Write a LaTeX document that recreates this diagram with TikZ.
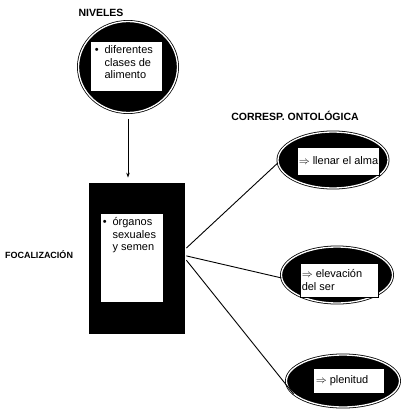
\documentclass[tikz,border=0pt]{standalone}
\usepackage{fontspec}
\setmainfont{Liberation Sans}
\usetikzlibrary{shapes.geometric,positioning,arrows.meta}

\tikzset{
	ring/.style={ellipse, draw, fill=black, double=white, double distance=1.3pt, line width=0.8pt, inner sep=0pt},
	blackbox/.style={rectangle, draw, fill=black, double=white, double distance=1.3pt, line width=0.8pt, inner sep=0pt},
	whitebox/.style={rectangle, draw, fill=white, line width=0.9pt, inner sep=0pt},
	heading/.style={font=\bfseries\fontsize{10.5}{12}\selectfont, inner sep=0pt},
	boxtext/.style={font=\fontsize{11}{12.5}\selectfont, align=left, inner sep=0pt},
	link/.style={line width=0.9pt}
}

\begin{document}
\begin{tikzpicture}[x=1pt,y=-1pt]
	\useasboundingbox (0,0) rectangle (406,415);
	% niveles
	\node [heading] (niveles) at (101,13) {NIVELES};
	\node [ring, minimum width=99pt, minimum height=91pt] (nivring) at (128,67) {};
	\node [whitebox, minimum width=72pt, minimum height=50pt] (nivbox) at (126,66) {};
	\node [boxtext, below right=4pt and 5pt of nivbox.north west] (nivtext) {%
		\begin{tabular}{@{}l@{\hspace{6pt}}l@{}}
			\textbullet & diferentes\\
			 & clases de\\
			 & alimento
		\end{tabular}};
	% focalizacion
	\node [heading, font=\bfseries\fontsize{9}{11}\selectfont] (focal) at (39,255) {FOCALIZACIÓN};
	\node [blackbox, minimum width=98pt, minimum height=153pt] (focrect) at (137,258.5) {};
	\node [whitebox, minimum width=63pt, minimum height=89pt] (focbox) at (131.5,257.5) {};
	\node [boxtext, below right=4pt and 3pt of focbox.north west] (foctext) {%
		\begin{tabular}{@{}l@{\hspace{6pt}}l@{}}
			\textbullet & órganos\\
			 & sexuales\\
			 & y semen
		\end{tabular}};
	\draw [-{Stealth[length=5pt,width=3.5pt]}, line width=0.7pt, shorten <=6pt, shorten >=4pt] (nivring.south) -- (nivring.south |- focrect.north);
	% correspondencia ontologica
	\node [heading] (corresp) at (295,116) {CORRESP. ONTOLÓGICA};
	\node [ring, minimum width=110pt, minimum height=56pt] (corr1) at (333,160) {};
	\node [whitebox, minimum width=82pt, minimum height=28pt] (corr1box) at (338,161) {};
	\node [boxtext, right=2pt of corr1box.west] (corr1text) {$\Rightarrow$ llenar el alma};
	\node [ring, minimum width=111pt, minimum height=56pt] (corr2) at (337,275) {};
	\node [whitebox, minimum width=78pt, minimum height=34pt] (corr2box) at (339,280) {};
	\node [boxtext, right=2pt of corr2box.west] (corr2text) {$\Rightarrow$ elevación\\del ser};
	\node [ring, minimum width=113pt, minimum height=52pt] (corr3) at (343,381) {};
	\node [whitebox, minimum width=71pt, minimum height=25pt] (corr3box) at (348.5,380.5) {};
	\node [boxtext, right=3pt of corr3box.west] (corr3text) {$\Rightarrow$ plenitud};
	\draw [link] (focrect.12) -- (corr1.183);
	\draw [link] (focrect.3) -- (corr2.183);
	\draw [link] (focrect.-2) -- (corr3.195);
\end{tikzpicture}
\end{document}
